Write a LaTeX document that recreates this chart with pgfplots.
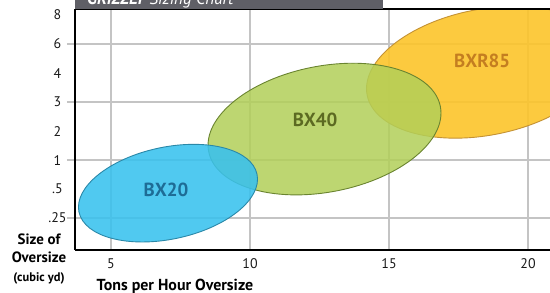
\documentclass[border=0pt]{standalone}
\usepackage{fontspec}
\setmainfont{PT Sans}
\usepackage{pgfplots}
\pgfplotsset{compat=1.18}
\definecolor{gridgray}{HTML}{C4C4C4}
\definecolor{titlegray}{HTML}{5F5F66}
\definecolor{bxblue}{HTML}{38C1EE}
\definecolor{bxblueedge}{HTML}{2A88A8}
\definecolor{bxgreen}{HTML}{B2CF58}
\definecolor{bxgreenedge}{HTML}{6A8430}
\definecolor{bxorange}{HTML}{FCC42A}
\definecolor{bxorangeedge}{HTML}{C49234}
\definecolor{lblblue}{HTML}{1E6C96}
\definecolor{lblgreen}{HTML}{5C6A22}
\definecolor{lblorange}{HTML}{C47E20}
\pgfplotsset{
  myframe/.style={
    at={(75bp,43bp)}, anchor=south west,
    scale only axis, width=475bp, height=241bp,
    xmin=3.705, xmax=20.79, ymin=-1.10, ymax=7.21,
  },
}
\begin{document}
\begin{tikzpicture}
\begin{axis}[
  myframe,
  axis line style={draw=none},
  xtick={5,10,15,20},
  ytick={0,1,2,3,4,5,6,7},
  yticklabels={.25,.5,1,2,3,4,6,8},
  grid=none,
  extra x ticks={5,10,15,20},
  extra x tick labels={},
  extra x tick style={grid=major},
  extra y ticks={0,2,4,6},
  extra y tick labels={},
  extra y tick style={grid=major, major tick length=8bp, tick align=outside},
  major grid style={draw=gridgray, line width=1.5bp},
  every tick/.style={draw=gridgray, line width=1.5bp},
  major tick length=0.01pt,
  /pgf/number format/assume math mode=true,
  tick label style={font=\fontsize{14}{14}\selectfont, text=black!90},
  yticklabel style={anchor=center, xshift=-17.5bp},
  xticklabel style={anchor=center, yshift=-14bp},
]
\addplot[draw=none, forget plot] coordinates {(7.05,0.86) (12.68,3.07) (18.45,5.03)};
\draw[fill=bxorange, fill opacity=0.9, draw=bxorangeedge, line width=0.9bp]
  (axis cs:18.45,5.03) ellipse [x radius=120bp, y radius=63bp, rotate=11];
\draw[fill=bxgreen, fill opacity=0.85, draw=bxgreenedge, line width=0.9bp]
  (axis cs:12.68,3.07) ellipse [x radius=118bp, y radius=63bp, rotate=11];
\draw[fill=bxblue, fill opacity=0.88, draw=bxblueedge, line width=0.9bp]
  (axis cs:7.05,0.86) ellipse [x radius=91bp, y radius=46bp, rotate=12];
\node[text=lblblue, font=\fontsize{19}{19}\selectfont\bfseries] at (axis cs:6.98,0.98) {BX20};
\node[text=lblgreen, font=\fontsize{19}{19}\selectfont\bfseries] at (axis cs:12.34,3.38) {BX40};
\node[text=lblorange, font=\fontsize{19}{19}\selectfont\bfseries] at (axis cs:18.35,5.41) {BXR85};
\end{axis}
\begin{axis}[
  myframe,
  axis x line*=box, axis y line*=left,
  axis line style={line width=2.2bp, black},
  xtick=\empty, ytick=\empty,
]
\addplot[draw=none, forget plot] coordinates {(7.05,0.86)};
\end{axis}
\begin{scope}
\clip (75bp,284bp) rectangle (383bp,293bp);
\fill[titlegray] (75bp,284bp) rectangle (383bp,293bp);
\node[anchor=base west, text=white, inner sep=0, font=\fontsize{17}{17}\selectfont\itshape] at (87bp,288bp) {\textbf{GRIZZLY} Sizing Chart};
\end{scope}
\node[anchor=base, inner sep=0, font=\fontsize{16}{16}\selectfont\bfseries] at (175bp,3bp) {Tons per Hour Oversize};
\node[anchor=base, inner sep=0, font=\fontsize{15}{15}\selectfont\bfseries] at (39bp,48bp) {Size of};
\node[anchor=base, inner sep=0, font=\fontsize{15}{15}\selectfont\bfseries] at (39bp,31bp) {Oversize};
\node[anchor=base, inner sep=0, font=\fontsize{12.5}{12.5}\selectfont\bfseries] at (39bp,12bp) {(cubic yd)};
\pgfresetboundingbox
\useasboundingbox (0,0) rectangle (550bp,293bp);
\end{tikzpicture}
\end{document}
